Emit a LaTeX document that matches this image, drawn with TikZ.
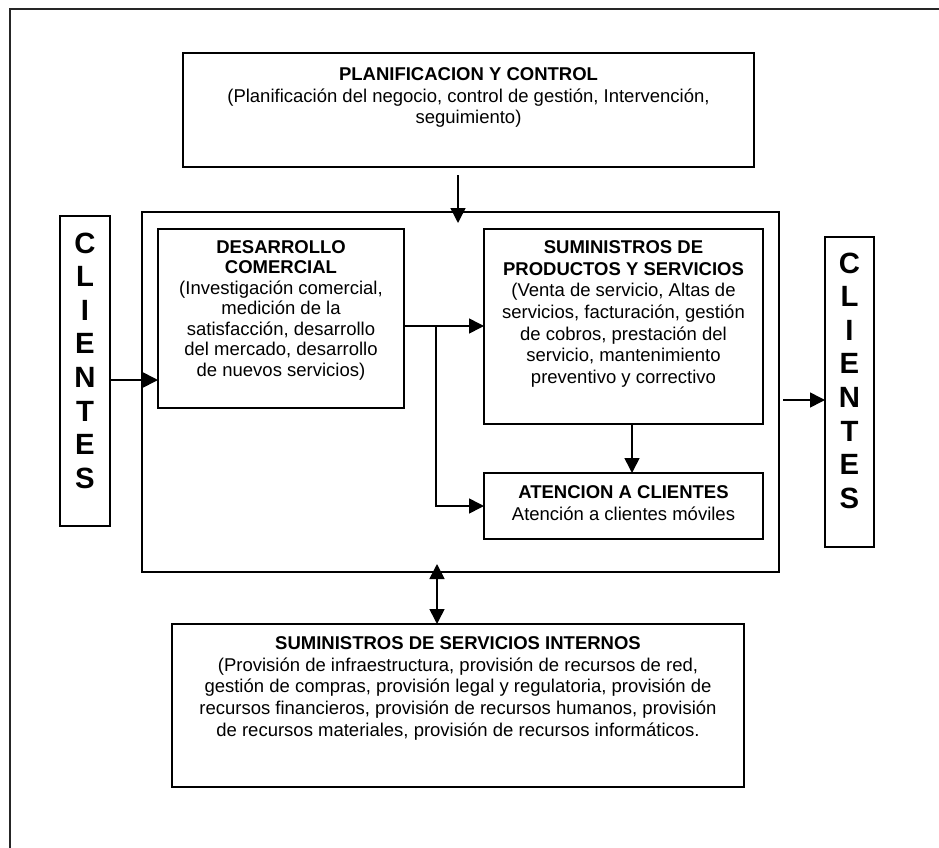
\documentclass[tikz,border=0pt]{standalone}
\usepackage{fontspec}
\setmainfont{Liberation Sans}
\usetikzlibrary{arrows.meta}
\begin{document}
\begin{tikzpicture}[x=1pt,y=-1pt,
  box/.style={draw, line width=1.6pt, inner sep=0pt, outer sep=0pt, anchor=north west},
  txt/.style={inner sep=0pt, anchor=north, align=center, font=\fontsize{18.5}{21.7}\selectfont},
  txtnarrow/.style={txt, font=\fontsize{18.5}{20.5}\selectfont},
  letters/.style={inner sep=0pt, anchor=north, align=center, font=\fontsize{29.3}{33.6}\selectfont\bfseries},
  conn/.style={line width=1.6pt, -{Triangle[length=15pt,width=15pt]}},
  dconn/.style={line width=1.6pt, {Triangle[length=15pt,width=15pt]}-{Triangle[length=15pt,width=15pt]}},
  frame/.style={line width=1.8pt, black!85}]

\useasboundingbox (0,0) rectangle (939,848);

% page frame (top and left edges)
\draw[frame] (10,848) -- (10,9) -- (939,9);

% boxes
\node[box, minimum width=571pt, minimum height=114pt] (plan)  at (183,53)  {};
\node[box, minimum width=637pt, minimum height=360pt] (big)   at (142,212) {};
\node[box, minimum width=50pt,  minimum height=310pt] (cliL)  at (60,216)  {};
\node[box, minimum width=49pt,  minimum height=310pt] (cliR)  at (825,237) {};
\node[box, minimum width=246pt, minimum height=179pt] (desa)  at (158,229) {};
\node[box, minimum width=279pt, minimum height=195pt] (sumi)  at (484,229) {};
\node[box, minimum width=279pt, minimum height=66pt]  (aten)  at (484,473) {};
\node[box, minimum width=572pt, minimum height=163pt] (inter) at (172,624) {};

% texts
\node[txt] (planT) at (468.5,67.3) {{\bfseries PLANIFICACION Y CONTROL}\\
  (Planificación del negocio, control de gestión, Intervención,\\
  seguimiento)};
\node[txtnarrow] (desaT) at (281,240.3) {{\bfseries DESARROLLO}\\
  {\bfseries COMERCIAL}\\
  (Investigación comercial,\\
  medición de la\\
  satisfacción, desarrollo\\
  del mercado, desarrollo\\
  de nuevos servicios)};
\node[txt] (sumiT) at (623.5,240.3) {{\bfseries SUMINISTROS DE}\\
  {\bfseries PRODUCTOS Y SERVICIOS}\\
  (Venta de servicio, Altas de\\
  servicios, facturación, gestión\\
  de cobros, prestación del\\
  servicio, mantenimiento\\
  preventivo y correctivo};
\node[txt, font=\fontsize{18.5}{22}\selectfont] (atenT) at (623.5,485.3) {{\bfseries ATENCION A CLIENTES}\\
  Atención a clientes móviles};
\node[txt] (interT) at (458,636.3) {{\bfseries SUMINISTROS DE SERVICIOS INTERNOS}\\
  (Provisión de infraestructura, provisión de recursos de red,\\
  gestión de compras, provisión legal y regulatoria, provisión de\\
  recursos financieros, provisión de recursos humanos, provisión\\
  de recursos materiales, provisión de recursos informáticos.};
\node[letters] (cliLT) at (85,232.5) {C\\L\\I\\E\\N\\T\\E\\S};
\node[letters] (cliRT) at (849.5,252.5) {C\\L\\I\\E\\N\\T\\E\\S};

% connectors
\draw[conn, shorten <=8pt, shorten >=-11pt] (plan.south -| 458,0) -- (big.north -| 458,0);
\draw[conn] (cliL.east |- 0,380) -- (desa.west |- 0,380);
\draw[conn] (desa.east |- 0,326) -- (sumi.west |- 0,326);
\coordinate (split) at (436,326);
\draw[conn] (split) |- (aten.west);
\draw[conn] (sumi.south -| 632,0) -- (aten.north -| 632,0);
\draw[conn, shorten <=4pt] (big.east |- 0,400) -- (cliR.west |- 0,400);
\draw[dconn, shorten <=-8pt] (big.south -| 437,0) -- (inter.north -| 437,0);
\end{tikzpicture}
\end{document}
